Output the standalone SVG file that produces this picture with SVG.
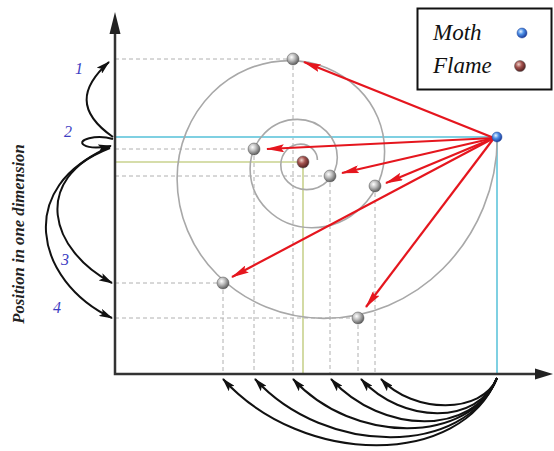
<svg xmlns="http://www.w3.org/2000/svg" width="554" height="451" viewBox="0 0 554 451">
<style>
.axis{stroke:#333;stroke-width:2.5;fill:none}
.dash{stroke:#b0b0b0;stroke-width:1;stroke-dasharray:4 3;fill:none}
.cyan{stroke:#7fd0e2;stroke-width:2;fill:none}
.olive{stroke:#c9d28e;stroke-width:1.6;fill:none}
.spiral{stroke:#a8a8a8;stroke-width:1.6;fill:none}
.red{stroke:#e5161e;stroke-width:2.2;fill:none;marker-end:url(#rh)}
.blk{stroke:#111;stroke-width:2;fill:none;marker-end:url(#bh)}
.num{font-family:"Liberation Serif",serif;font-style:italic;font-size:16px;fill:#3d3dc2;text-anchor:middle}
.leg{font-family:"Liberation Serif",serif;font-style:italic;font-size:23px;fill:#111}
.ball{fill:url(#g);stroke:#555;stroke-width:0.5}
</style>
<defs>
<radialGradient id="g" cx="38%" cy="35%" r="65%"><stop offset="0" stop-color="#ffffff"/><stop offset="0.45" stop-color="#bdbdbd"/><stop offset="1" stop-color="#5e5e5e"/></radialGradient>
<radialGradient id="gb" cx="38%" cy="35%" r="65%"><stop offset="0" stop-color="#e6f3ff"/><stop offset="0.45" stop-color="#4c8fe6"/><stop offset="1" stop-color="#1b3c9c"/></radialGradient>
<radialGradient id="gf" cx="38%" cy="35%" r="65%"><stop offset="0" stop-color="#f0d0c8"/><stop offset="0.45" stop-color="#a4534f"/><stop offset="1" stop-color="#542020"/></radialGradient>
<marker id="rh" viewBox="0 0 18 8" refX="17" refY="4" markerWidth="18" markerHeight="8" markerUnits="userSpaceOnUse" orient="auto"><path d="M0,0 L18,4 L0,8 L3,4 z" fill="#e5161e"/></marker>
<marker id="bh" viewBox="0 0 14 8" refX="13" refY="4" markerWidth="14" markerHeight="8" markerUnits="userSpaceOnUse" orient="auto"><path d="M0,0 L14,4 L0,8 L3,4 z" fill="#111"/></marker>
</defs>
<rect width="554" height="451" fill="#fff"/>

<g id="guides">
<path class="dash" d="M115,59H293 M115,149H254 M115,176H330 M115,283H223 M115,318H358"/>
<path class="dash" d="M223,283V374 M254,149V374 M293,59V374 M330,176V374 M358,318V374 M375,186V374"/>
<path class="olive" d="M115,162H303V374"/>
<path class="cyan" d="M115,137H497V374"/>
</g>

<g id="spiral">
<path class="spiral" d="M497.3,136 A187.4,187.4 0 0 1 442.8,268.8 A168.2,168.2 0 0 1 324,318.4 A150.9,150.9 0 0 1 217.1,274.5 A135.4,135.4 0 0 1 177.1,178.9 A121.5,121.5 0 0 1 212.4,92.8 A109,109 0 0 1 289.4,60.6 A97.8,97.8 0 0 1 358.7,89.1 A87.8,87.8 0 0 1 384.6,151.1 A78.8,78.8 0 0 1 361.7,206.9 A70.7,70.7 0 0 1 311.8,227.7 A63.4,63.4 0 0 1 266.9,209.3 A56.9,56.9 0 0 1 250.1,169.1 A51,51 0 0 1 264.9,132.9 A45.8,45.8 0 0 1 297.3,119.4 A41.1,41.1 0 0 1 326.4,131.4 A36.9,36.9 0 0 1 337.3,157.4 A33.1,33.1 0 0 1 327.7,180.9 A29.7,29.7 0 0 1 306.7,189.6 A26.6,26.6 0 0 1 287.8,181.9 A23.9,23.9 0 0 1 280.8,165 A21.4,21.4 0 0 1 287,149.8 A19.3,19.3 0 0 1 300.6,144.1 A17.3,17.3 0 0 1 312.8,149.1 A15.5,15.5 0 0 1 317.4,160.1"/>
</g>

<g id="axes">
<path class="axis" d="M115,30V374H540"/>
<polygon points="115,12 109.5,34 120.5,34" fill="#222"/>
<polygon points="553,374 535,368.5 535,379.5" fill="#222"/>
</g>

<g id="connectors">
<path class="red" d="M494,138L304,62"/>
<path class="red" d="M494,138L267,149"/>
<path class="red" d="M494,138L342,173"/>
<path class="red" d="M494,138L386,183"/>
<path class="red" d="M494,138L232,277"/>
<path class="red" d="M494,138L366,307"/>
<path class="blk" d="M113,137C77,112 80,88 109,62"/>
<path class="blk" d="M113,139C96,134 76,140 84,145C90,149 100,148 111,146"/>
<path class="blk" d="M110,147C30,180 50,250 112,283"/>
<path class="blk" d="M110,148C15,185 34,281 112,318"/>
<path class="blk" d="M497,378C461,467.5 303.5,467.5 223,379"/>
<path class="blk" d="M497,378C465.3,456.8 325.9,456.8 255,379"/>
<path class="blk" d="M497,378C469.9,444.8 353.1,444.8 293,379"/>
<path class="blk" d="M497,378C473.6,435.5 382.8,435.5 331,379"/>
<path class="blk" d="M497,378C477.9,424.8 403.1,424.8 361,379"/>
<path class="blk" d="M497,378C482.1,414.2 413.6,414.2 381,379"/>
</g>

<g id="flame"><circle cx="303" cy="162" r="6" fill="url(#gf)" stroke="#555" stroke-width="0.5"/></g>
<g id="moth"><circle cx="497" cy="137" r="5" fill="url(#gb)" stroke="#2a4a9a" stroke-width="0.5"/></g>
<g id="ball1"><circle class="ball" cx="293" cy="59" r="6"/></g>
<g id="ball2"><circle class="ball" cx="254" cy="149" r="6"/></g>
<g id="ball3"><circle class="ball" cx="330" cy="176" r="6"/></g>
<g id="ball4"><circle class="ball" cx="375" cy="186" r="6"/></g>
<g id="ball5"><circle class="ball" cx="223" cy="283" r="6"/></g>
<g id="ball6"><circle class="ball" cx="358" cy="318" r="6"/></g>

<g id="labels">
<text class="num" x="79" y="74">1</text>
<text class="num" x="68" y="137">2</text>
<text class="num" x="65" y="265">3</text>
<text class="num" x="57" y="313">4</text>
<text x="24" y="234" transform="rotate(-90 24 234)" font-family="Liberation Serif, serif" font-style="italic" font-weight="bold" font-size="16.7" fill="#222" text-anchor="middle">Position in one dimension</text>
</g>

<g id="legend">
<rect x="417.5" y="8.5" width="134" height="81" fill="#fff" stroke="#111" stroke-width="2"/>
<text class="leg" x="433" y="40">Moth</text>
<text class="leg" x="433" y="73">Flame</text>
<circle cx="522" cy="33" r="5" fill="url(#gb)" stroke="#2a4a9a" stroke-width="0.5"/>
<circle cx="520" cy="66" r="5.5" fill="url(#gf)" stroke="#555" stroke-width="0.5"/>
</g>
</svg>
